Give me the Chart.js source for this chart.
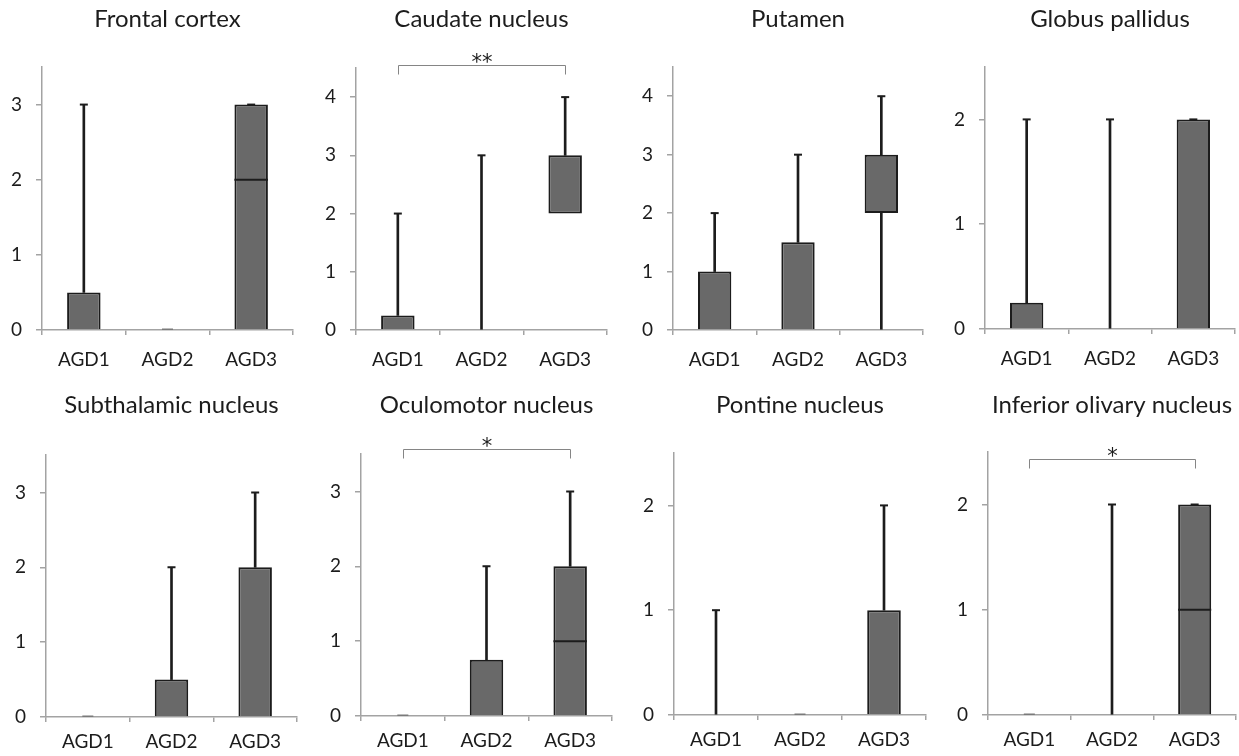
<!DOCTYPE html>
<html>
<head>
<meta charset="utf-8">
<script src="https://cdn.jsdelivr.net/npm/chart.js@4.4.1/dist/chart.umd.min.js"></script>
<style>
  html, body { margin: 0; padding: 0; background: #fff; }
  body { width: 1239px; height: 756px; position: relative; overflow: hidden; }
  canvas { position: absolute; }
</style>
</head>
<body>
<script>
/* AGD stage box plots, one panel per brain region */

const GROUPS  = ['AGD1', 'AGD2', 'AGD3'];
const REGIONS = ['Frontal cortex', 'Caudate nucleus', 'Putamen', 'Globus pallidus',
                 'Subthalamic nucleus', 'Oculomotor nucleus', 'Pontine nucleus', 'Inferior olivary nucleus'];

// one row per region, values for AGD1, AGD2, AGD3
const MIN    = [[0,0,0],[0,0,2],[0,0,0],[0,0,0],[0,0,0],[0,0,0],[0,0,0],[0,0,0]];
const Q1     = [[0,0,0],[0,0,2],[0,0,2],[0,0,0],[0,0,0],[0,0,0],[0,0,0],[0,0,0]];
const MEDIAN = [[0,0,2],[0,0,2],[0,0,2],[0,0,2],[0,0,2],[0,0,1],[0,0,1],[0,0,1]];
const Q3     = [[0.5,0,3],[0.25,0,3],[1,1.5,3],[0.25,0,2],[0,0.5,2],[0,0.75,2],[0,0,1],[0,0,2]];
const MAX    = [[3,0,3],[2,3,4],[2,3,4],[2,2,2],[0,2,3],[0,2,3],[1,0,2],[0,2,2]];

const Y_MAX  = [3.5, 4.5, 4.5, 2.5, 3.5, 3.5, 2.5, 2.5];

// significance bracket AGD1 vs AGD3
const SIG_LABEL = ['', '**', '', '', '', '*', '', '*'];
const SIG_LEVEL = [null, 4.55, null, null, null, 3.565, null, 2.43];

// plot-area edges on the page: left, top, y=0 line, right
const AREA = [
  [42, 67, 330, 293], [356, 68, 330, 607], [673, 67, 330, 923], [985, 67, 329, 1235],
  [46, 455, 717, 297], [361, 454, 716, 612], [674, 453, 715, 926], [988, 452, 715, 1236]
];
const ROW_TOP = [0, 386];
const LABEL_PAD = [13, 8];

const FONT    = 'Lato, "Open Sans", sans-serif';
const INK     = '#1c1c1c';
const AXIS    = '#a3a3a3';
const BOX     = '#696969';
const SIDE    = 45;
const TITLE_SIZE = 24;
const TITLE_TOP  = 5;
const XAXIS_H = 45;

const bracketPlugin = {
  id: 'sigBracket',
  afterDraw(chart) {
    const i = chart.options.plugins.sigBracket.panel;
    if (!SIG_LABEL[i]) return;
    const xs = chart.scales.x, ys = chart.scales.y, c = chart.ctx;
    const x1 = Math.round(xs.getPixelForValue(0)) + 0.5, x2 = Math.round(xs.getPixelForValue(2)) + 0.5;
    const y = Math.round(ys.getPixelForValue(SIG_LEVEL[i])) + 0.5;
    c.save();
    c.strokeStyle = '#858585';
    c.lineWidth = 1;
    c.beginPath();
    c.moveTo(x1, y + 9); c.lineTo(x1, y); c.lineTo(x2, y); c.lineTo(x2, y + 9);
    c.stroke();
    c.fillStyle = INK;
    c.font = '21px "DejaVu Sans", sans-serif';
    c.textAlign = 'center';
    c.textBaseline = 'alphabetic';
    c.fillText(SIG_LABEL[i], (x1 + x2) / 2, y + 3);
    c.restore();
  }
};

function boxWidth(ctx) {
  return ctx.chart.scales.x.width / GROUPS.length * 0.4;
}

function makePanel(i) {
  const [l, t, b, r] = AREA[i];
  const row = i < 4 ? 0 : 1;
  const top = ROW_TOP[row];
  const cv = document.createElement('canvas');
  cv.width = (r - l) + 2 * SIDE;
  cv.height = (b - top) + XAXIS_H;
  cv.style.left = (l - SIDE) + 'px';
  cv.style.top = top + 'px';
  document.body.appendChild(cv);

  const boxes = GROUPS.map((g, k) => Q3[i][k] > Q1[i][k] ? [Q1[i][k], Q3[i][k]] : null);
  const upper = GROUPS.map((g, k) => MAX[i][k] > Q3[i][k] ? [Q3[i][k], MAX[i][k]] : null);
  const lower = GROUPS.map((g, k) => Q1[i][k] > MIN[i][k] ? [MIN[i][k], Q1[i][k]] : null);
  // a median on a box edge is already drawn by the edge itself
  const medians = GROUPS.map((g, k) =>
    MEDIAN[i][k] > Q1[i][k] && MEDIAN[i][k] < Q3[i][k] ? MEDIAN[i][k] : null);

  new Chart(cv, {
    type: 'bar',
    data: {
      labels: GROUPS,
      datasets: [
        { data: upper, backgroundColor: INK, barThickness: 2, grouped: false, order: 3 },
        { data: lower, backgroundColor: INK, barThickness: 2, grouped: false, order: 3 },
        { data: boxes, backgroundColor: BOX, borderColor: INK, borderWidth: 2,
          borderSkipped: ctx => (ctx.raw && ctx.raw[0] === 0) ? 'start' : false,
          barPercentage: 0.4, categoryPercentage: 1, grouped: false, order: 2 },
        { type: 'line', data: MAX[i], showLine: false, pointStyle: 'line',
          pointRadius: ctx => ctx.raw === 0 ? 5.5 : 4,
          pointBorderWidth: ctx => ctx.raw === 0 ? 3 : 2,
          pointBorderColor: ctx => ctx.raw === 0 ? '#7a7a7a' : INK, order: 1 },
        { type: 'line', data: medians, showLine: false, pointStyle: 'line', pointRadius: ctx => boxWidth(ctx) / 2,
          pointBorderWidth: 2, pointBorderColor: INK, order: 0 }
      ]
    },
    options: {
      responsive: false,
      animation: false,
      events: [],
      layout: { padding: 0 },
      plugins: {
        legend: { display: false },
        tooltip: { enabled: false },
        title: { display: true, text: REGIONS[i], color: INK,
                 font: { family: FONT, size: TITLE_SIZE, weight: 'normal', lineHeight: 1.2 },
                 padding: { top: TITLE_TOP, bottom: (t - top) - TITLE_TOP - TITLE_SIZE * 1.2 } },
        sigBracket: { panel: i }
      },
      scales: {
        x: {
          z: 1,
          offset: true,
          grid: { offset: true, drawOnChartArea: false, tickLength: 5, color: AXIS, lineWidth: 1.5 },
          border: { color: AXIS, width: 1.5 },
          ticks: { color: INK, font: { family: FONT, size: 19 }, padding: LABEL_PAD[row] },
          afterFit: s => { s.height = XAXIS_H; }
        },
        y: {
          min: 0, max: Y_MAX[i],
          grid: { drawOnChartArea: false, tickLength: 6, color: AXIS, lineWidth: 1.5 },
          border: { color: AXIS, width: 1.5 },
          ticks: { stepSize: 1, includeBounds: false, color: INK, font: { family: FONT, size: 19 }, padding: 14 },
          afterFit: s => { s.width = SIDE; }
        },
        // empty right-hand spacer so the title centres over the plot area
        yR: {
          position: 'right', min: 0, max: Y_MAX[i],
          grid: { display: false }, border: { display: false }, ticks: { display: false },
          afterFit: s => { s.width = SIDE; }
        }
      }
    },
    plugins: [bracketPlugin]
  });
}

REGIONS.forEach((name, i) => makePanel(i));
</script>
</body>
</html>
